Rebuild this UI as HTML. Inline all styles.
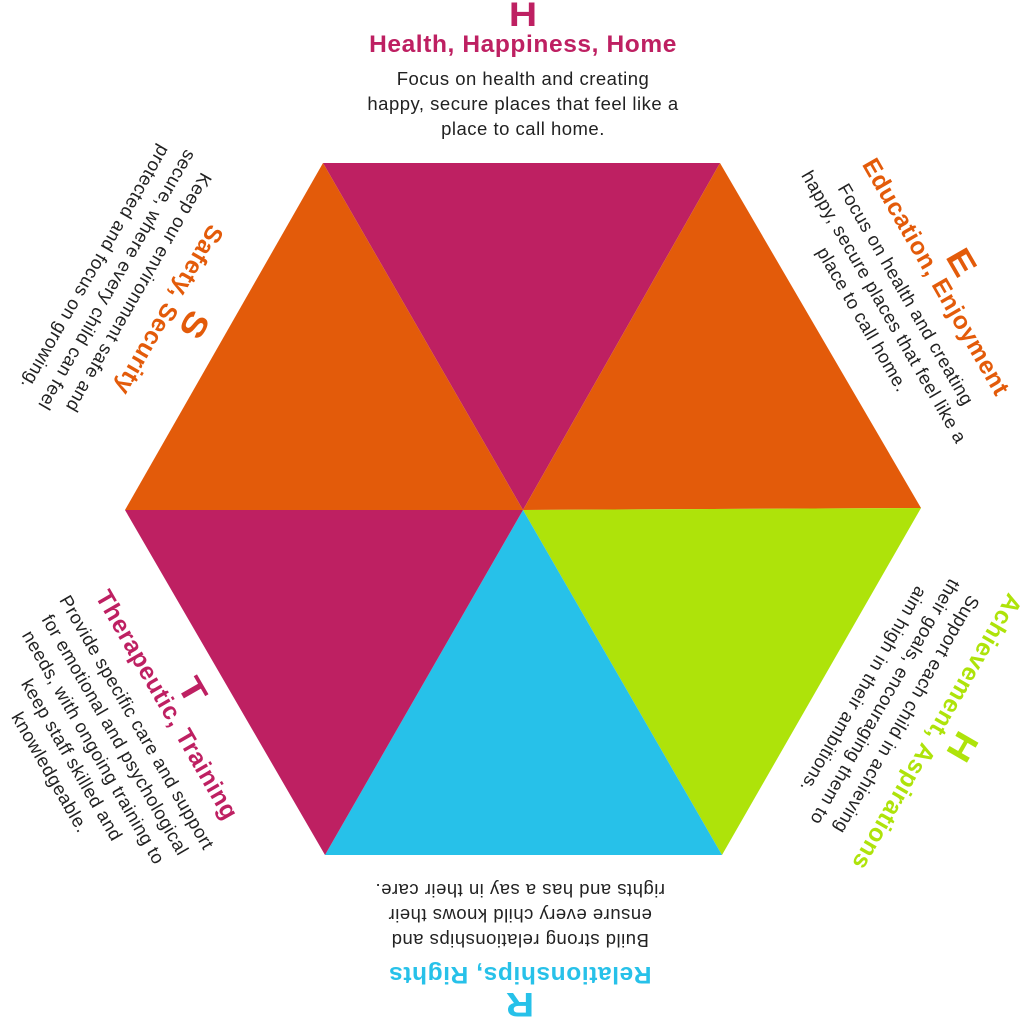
<!DOCTYPE html>
<html><head><meta charset="utf-8"><style>
html,body{margin:0;padding:0;background:#fff;}
body{width:1024px;height:1021px;position:relative;overflow:hidden;font-family:"Liberation Sans",sans-serif;}
.b{position:absolute;width:440px;transform-origin:50% 0;text-align:center;color:#222;}
.l{height:28px;line-height:30px;font-size:34px;font-weight:900;transform:scaleX(1.15);}
.t{height:34px;line-height:34px;font-size:24.5px;font-weight:bold;white-space:nowrap;letter-spacing:0.6px;}
.d{margin-top:4px;font-size:18.5px;line-height:25px;white-space:nowrap;letter-spacing:0.5px;}
</style></head><body>
<svg width="1024" height="1021" style="position:absolute;left:0;top:0">
<polygon points="323,163 720,163 523,510" fill="#BE2062"/>
<polygon points="720,163 921,508 523,510" fill="#E35B0A"/>
<polygon points="921,508 722,855 523,510" fill="#AEE30A"/>
<polygon points="722,855 325,855 523,510" fill="#27C1E9"/>
<polygon points="325,855 125,510 523,510" fill="#BE2062"/>
<polygon points="125,510 323,163 523,510" fill="#E35B0A"/>
</svg>

<div class="b" style="left:303px;top:0px;">
<div class="l" style="color:#BE2062">H</div>
<div class="t" style="color:#BE2062">Health, Happiness, Home</div>
<div class="d">Focus on health and creating<br>happy, secure places that feel like a<br>place to call home.</div>
</div>

<div class="b" style="left:754px;top:255px;transform:rotate(60deg);">
<div class="l" style="color:#E35B0A">E</div>
<div class="t" style="color:#E35B0A">Education, Enjoyment</div>
<div class="d">Focus on health and creating<br>happy, secure places that feel like a<br>place to call home.</div>
</div>

<div class="b" style="left:755px;top:754px;transform:rotate(120deg);">
<div class="l" style="color:#AEE30A">H</div>
<div class="t" style="color:#AEE30A">Achievement, Aspirations</div>
<div class="d">Support each child in achieving<br>their goals, encouraging them to<br>aim high in their ambitions.</div>
</div>

<div class="b" style="left:300px;top:1019px;transform:rotate(180deg);">
<div class="l" style="color:#27C1E9">R</div>
<div class="t" style="color:#27C1E9">Relationships, Rights</div>
<div class="d">Build strong relationships and<br>ensure every child knows their<br>rights and has a say in their care.</div>
</div>

<div class="b" style="left:-15px;top:683px;transform:rotate(60deg);">
<div class="l" style="color:#BE2062">T</div>
<div class="t" style="color:#BE2062">Therapeutic, Training</div>
<div class="d">Provide specific care and support<br>for emotional and psychological<br>needs, with ongoing training to<br>keep staff skilled and<br>knowledgeable.</div>
</div>

<div class="b" style="left:-13px;top:332px;transform:rotate(120deg);">
<div class="l" style="color:#E35B0A">S</div>
<div class="t" style="color:#E35B0A">Safety, Security</div>
<div class="d">Keep our environment safe and<br>secure, where every child can feel<br>protected and focus on growing.</div>
</div>
</body></html>
